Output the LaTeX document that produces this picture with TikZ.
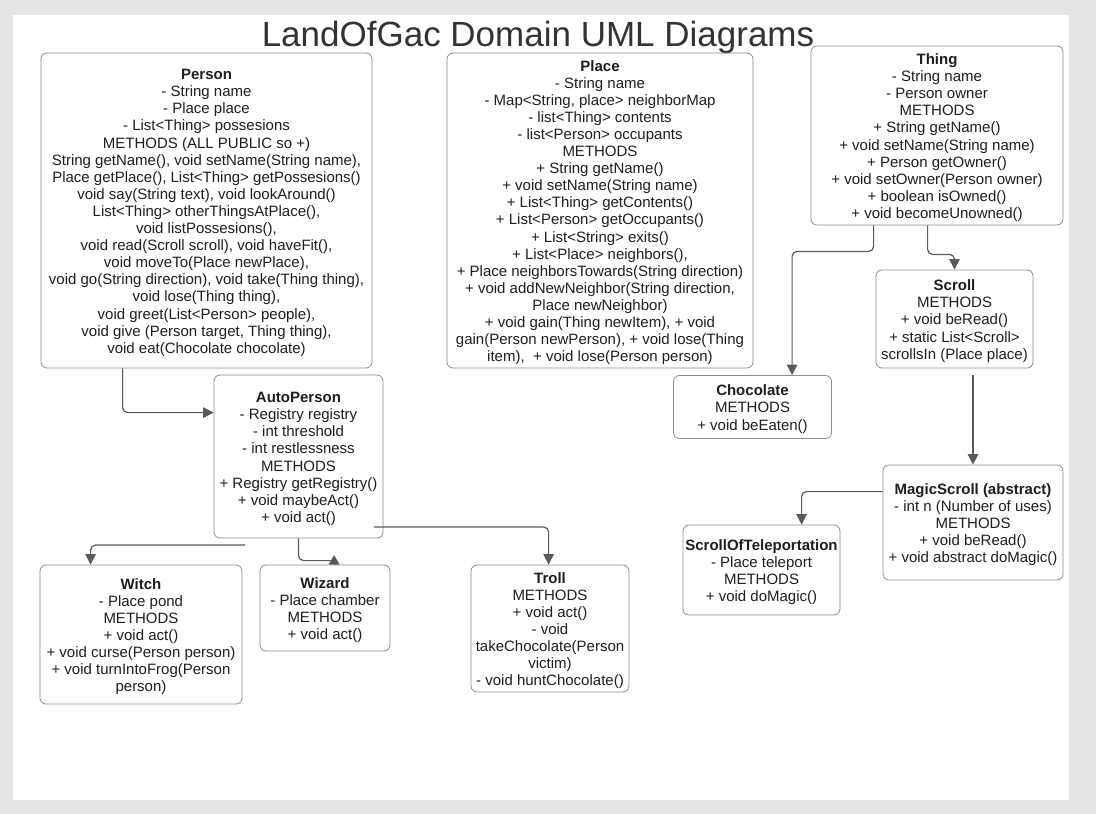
\documentclass[tikz,border=0pt]{standalone}
\usepackage{fontspec}
\setmainfont{Liberation Sans}
\usetikzlibrary{arrows.meta,calc}
\definecolor{bggray}{HTML}{E4E5E7}
\definecolor{boxline}{HTML}{8C8C8C}
\definecolor{conncol}{HTML}{5A5A5A}
\definecolor{txt}{HTML}{1E1E1E}
\definecolor{titlecol}{HTML}{333333}
\newcommand\clshead[1]{\rule{0pt}{15pt}\textbf{#1}}
\begin{document}
\begin{tikzpicture}[x=1pt,y=-1pt,
  cls/.style={draw=boxline, line width=0.8pt, rounded corners=6pt, align=center,
    text=txt, inner sep=0pt, font=\fontsize{15}{17.1}\selectfont},
  conn/.style={draw=conncol, line width=1.2pt, rounded corners=5pt,
    -{Triangle[width=10.5pt,length=10.5pt]}},
  connplain/.style={draw=conncol, line width=1.2pt, rounded corners=5pt}]
\useasboundingbox (0,0) rectangle (1096,814);
\fill[bggray] (0,0) rectangle (1096,814);
\fill[white] (13,15) rectangle (1069,800);

\node[anchor=base, text=titlecol, font=\fontsize{35}{40}\selectfont] (title) at (538,46) {LandOfGac Domain UML Diagrams};

\node[cls, minimum width=331pt, minimum height=315pt] (Person) at (206.5,210.5) {\clshead{Person}\\
- String name\\
- Place place\\
- List<Thing> possesions\\
METHODS (ALL PUBLIC so +)\\
String getName(), void setName(String name),\\
Place getPlace(), List<Thing> getPossesions()\\
void say(String text), void lookAround()\\
List<Thing> otherThingsAtPlace(),\\
void listPossesions(),\\
void read(Scroll scroll), void haveFit(),\\
void moveTo(Place newPlace),\\
void go(String direction), void take(Thing thing),\\
void lose(Thing thing),\\
void greet(List<Person> people),\\
void give (Person target, Thing thing),\\
void eat(Chocolate chocolate)};

\node[cls, minimum width=306pt, minimum height=315pt] (Place) at (600,210.5) {\clshead{Place}\\
- String name\\
- Map<String, place> neighborMap\\
- list<Thing> contents\\
- list<Person> occupants\\
METHODS\\
+ String getName()\\
+ void setName(String name)\\
+ List<Thing> getContents()\\
+ List<Person> getOccupants()\\
+ List<String> exits()\\
+ List<Place> neighbors(),\\
+ Place neighborsTowards(String direction)\\
+ void addNewNeighbor(String direction,\\
Place newNeighbor)\\
+ void gain(Thing newItem), + void\\
gain(Person newPerson), + void lose(Thing\\
item), \ + void lose(Person person)};

\node[cls, minimum width=252pt, minimum height=179pt] (Thing) at (937,135.5) {\clshead{Thing}\\
- String name\\
- Person owner\\
METHODS\\
+ String getName()\\
+ void setName(String name)\\
+ Person getOwner()\\
+ void setOwner(Person owner)\\
+ boolean isOwned()\\
+ void becomeUnowned()};

\node[cls, minimum width=169pt, minimum height=163pt] (AutoPerson) at (298.5,456.5) {\clshead{AutoPerson}\\
- Registry registry\\
- int threshold\\
- int restlessness\\
METHODS\\
+ Registry getRegistry()\\
+ void maybeAct()\\
+ void act()};

\node[cls, minimum width=202pt, minimum height=139pt] (Witch) at (141,634.5) {\clshead{Witch}\\
- Place pond\\
METHODS\\
+ void act()\\
+ void curse(Person person)\\
+ void turnIntoFrog(Person\\
person)};

\node[cls, minimum width=130pt, minimum height=86pt] (Wizard) at (325,608) {\clshead{Wizard}\\
- Place chamber\\
METHODS\\
+ void act()};

\node[cls, minimum width=158pt, minimum height=127pt] (Troll) at (550,628.5) {\clshead{Troll}\\
METHODS\\
+ void act()\\
- void\\
takeChocolate(Person\\
victim)\\
- void huntChocolate()};

\node[cls, minimum width=158pt, minimum height=63pt] (Chocolate) at (752.5,407) {\clshead{Chocolate}\\
METHODS\\
+ void beEaten()};

\node[cls, minimum width=157pt, minimum height=98pt] (Scroll) at (954.5,319) {\clshead{Scroll}\\
METHODS\\
+ void beRead()\\
+ static List<Scroll>\\
scrollsIn (Place place)};

\node[cls, minimum width=180pt, minimum height=115pt] (MagicScroll) at (973,522.5) {\clshead{MagicScroll (abstract)}\\
- int n (Number of uses)\\
METHODS\\
+ void beRead()\\
+ void abstract doMagic()};

\node[cls, minimum width=157pt, minimum height=90pt] (SoT) at (761.5,570) {\clshead{ScrollOfTeleportation}\\
- Place teleport\\
METHODS\\
+ void doMagic()};

% connectors
\draw[conn] ($(Person.south west)+(82,0)$) |- ($(AutoPerson.north west)+(0,38)$);
\coordinate (w0) at (245,545);
\draw[conn] (w0) -| ($(Witch.north west)+(51,0)$);
\draw[connplain] (AutoPerson.south) |- ($(Wizard.north west)+(74.5,-4)$);
\fill[conncol] ($(Wizard.north west)+(69,0)$) -- ++(11,0) -- ++(-5.5,-9.5) -- cycle;
\coordinate (t0) at (374,527);
\draw[conn] (t0) -| ($(Troll.north west)+(78,0)$);
\draw[conn] ($(Thing.south west)+(63,0)$) -- ++(0,26) -| ($(Chocolate.north west)+(119,0)$);
\draw[conn] ($(Thing.south west)+(117,0)$) -- ++(0,29) -| (Scroll.north);
\coordinate (s0) at (973,375);
\draw[conn] (s0) -- (MagicScroll.north);
\draw[conn] ($(MagicScroll.north west)+(0,27)$) -| ($(SoT.north west)+(119,0)$);
\end{tikzpicture}
\end{document}
